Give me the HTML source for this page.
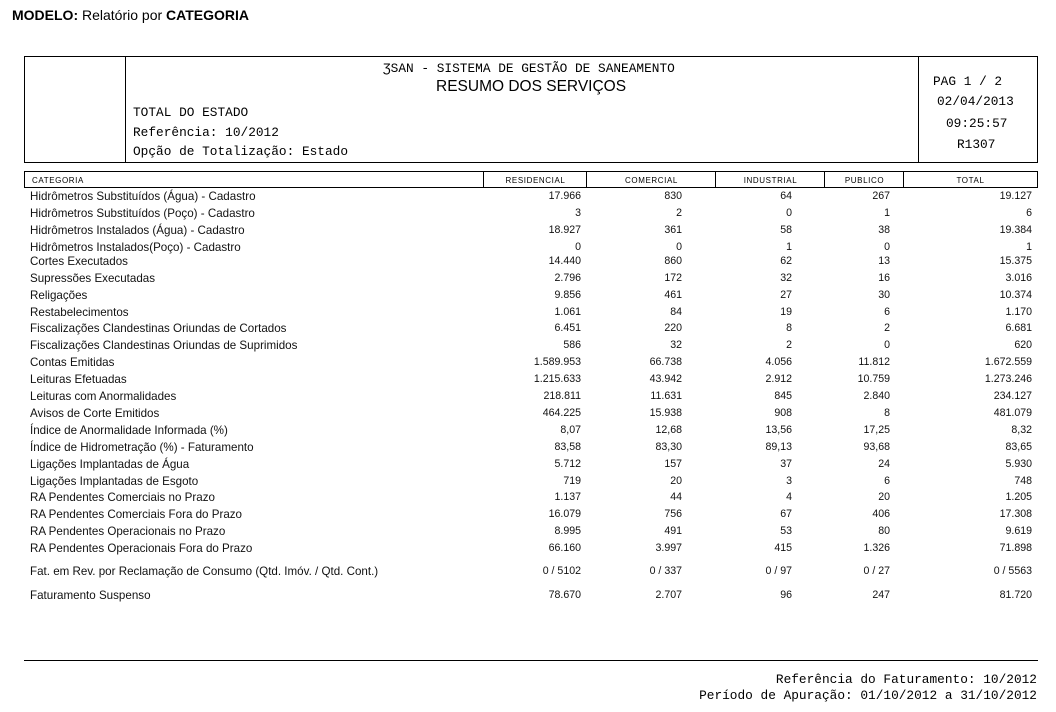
<!DOCTYPE html>
<html><head><meta charset="utf-8"><style>
body{margin:0;width:1056px;height:712px;background:#fff;position:relative;overflow:hidden;font-family:"Liberation Sans",sans-serif;color:#000}
.a{position:absolute;white-space:nowrap}
.m{font-family:"Liberation Mono",monospace;font-size:12.8px;line-height:15px}
.r{position:absolute;left:0;width:1056px;height:14px;font-size:10.6px;line-height:14px;color:#111}
.r span{position:absolute;white-space:nowrap;top:0}
.r .l{left:30px;font-size:11.6px;top:1px}
.c1{right:475px}.c2{right:374px}.c3{right:264px}.c4{right:166px}.c5{right:24px}
.h{position:absolute;top:171px;height:17px;border:1px solid #000;border-right:none;font-size:8px;line-height:17px;text-align:center;box-sizing:border-box;letter-spacing:0.6px}
</style></head><body>
<div class="a" style="left:12px;top:7px;font-size:14px"><b>MODELO:</b> Relatório por <b>CATEGORIA</b></div>
<div class="a" style="left:24px;top:56px;width:1014px;height:107px;border:1px solid #000;box-sizing:border-box"></div>
<div class="a" style="left:125px;top:56px;width:1px;height:107px;background:#000"></div>
<div class="a" style="left:918px;top:56px;width:1px;height:107px;background:#000"></div>
<div class="a m" style="left:383px;top:61px">ƷSAN - SISTEMA DE GESTÃO DE SANEAMENTO</div>
<div class="a" style="left:436px;top:78px;font-size:15.5px">RESUMO DOS SERVIÇOS</div>
<div class="a m" style="left:133px;top:105px">TOTAL DO ESTADO</div>
<div class="a m" style="left:133px;top:125px">Referência: 10/2012</div>
<div class="a m" style="left:133px;top:144px">Opção de Totalização: Estado</div>
<div class="a m" style="left:933px;top:74px">PAG 1 /  2</div>
<div class="a m" style="left:937px;top:94px">02/04/2013</div>
<div class="a m" style="left:946px;top:116px">09:25:57</div>
<div class="a m" style="left:957px;top:137px">R1307</div>
<div class="h" style="left:24px;width:460px;text-align:left;padding-left:7px">CATEGORIA</div>
<div class="h" style="left:483px;width:104px">RESIDENCIAL</div>
<div class="h" style="left:586px;width:130px">COMERCIAL</div>
<div class="h" style="left:715px;width:110px">INDUSTRIAL</div>
<div class="h" style="left:824px;width:80px">PUBLICO</div>
<div class="h" style="left:903px;width:135px;border-right:1px solid #000">TOTAL</div>
<div class="r" style="top:189px"><span class="l">Hidrômetros Substituídos (Água) - Cadastro</span><span class="c1">17.966</span><span class="c2">830</span><span class="c3">64</span><span class="c4">267</span><span class="c5">19.127</span></div>
<div class="r" style="top:206px"><span class="l">Hidrômetros Substituídos (Poço) - Cadastro</span><span class="c1">3</span><span class="c2">2</span><span class="c3">0</span><span class="c4">1</span><span class="c5">6</span></div>
<div class="r" style="top:223px"><span class="l">Hidrômetros Instalados (Água) - Cadastro</span><span class="c1">18.927</span><span class="c2">361</span><span class="c3">58</span><span class="c4">38</span><span class="c5">19.384</span></div>
<div class="r" style="top:240px"><span class="l">Hidrômetros Instalados(Poço) - Cadastro</span><span class="c1">0</span><span class="c2">0</span><span class="c3">1</span><span class="c4">0</span><span class="c5">1</span></div>
<div class="r" style="top:254px"><span class="l">Cortes Executados</span><span class="c1">14.440</span><span class="c2">860</span><span class="c3">62</span><span class="c4">13</span><span class="c5">15.375</span></div>
<div class="r" style="top:271px"><span class="l">Supressões Executadas</span><span class="c1">2.796</span><span class="c2">172</span><span class="c3">32</span><span class="c4">16</span><span class="c5">3.016</span></div>
<div class="r" style="top:288px"><span class="l">Religações</span><span class="c1">9.856</span><span class="c2">461</span><span class="c3">27</span><span class="c4">30</span><span class="c5">10.374</span></div>
<div class="r" style="top:305px"><span class="l">Restabelecimentos</span><span class="c1">1.061</span><span class="c2">84</span><span class="c3">19</span><span class="c4">6</span><span class="c5">1.170</span></div>
<div class="r" style="top:321px"><span class="l">Fiscalizações Clandestinas Oriundas de Cortados</span><span class="c1">6.451</span><span class="c2">220</span><span class="c3">8</span><span class="c4">2</span><span class="c5">6.681</span></div>
<div class="r" style="top:338px"><span class="l">Fiscalizações Clandestinas Oriundas de Suprimidos</span><span class="c1">586</span><span class="c2">32</span><span class="c3">2</span><span class="c4">0</span><span class="c5">620</span></div>
<div class="r" style="top:355px"><span class="l">Contas Emitidas</span><span class="c1">1.589.953</span><span class="c2">66.738</span><span class="c3">4.056</span><span class="c4">11.812</span><span class="c5">1.672.559</span></div>
<div class="r" style="top:372px"><span class="l">Leituras Efetuadas</span><span class="c1">1.215.633</span><span class="c2">43.942</span><span class="c3">2.912</span><span class="c4">10.759</span><span class="c5">1.273.246</span></div>
<div class="r" style="top:389px"><span class="l">Leituras com Anormalidades</span><span class="c1">218.811</span><span class="c2">11.631</span><span class="c3">845</span><span class="c4">2.840</span><span class="c5">234.127</span></div>
<div class="r" style="top:406px"><span class="l">Avisos de Corte Emitidos</span><span class="c1">464.225</span><span class="c2">15.938</span><span class="c3">908</span><span class="c4">8</span><span class="c5">481.079</span></div>
<div class="r" style="top:423px"><span class="l">Índice de Anormalidade Informada (%)</span><span class="c1">8,07</span><span class="c2">12,68</span><span class="c3">13,56</span><span class="c4">17,25</span><span class="c5">8,32</span></div>
<div class="r" style="top:440px"><span class="l">Índice de Hidrometração (%) - Faturamento</span><span class="c1">83,58</span><span class="c2">83,30</span><span class="c3">89,13</span><span class="c4">93,68</span><span class="c5">83,65</span></div>
<div class="r" style="top:457px"><span class="l">Ligações Implantadas de Água</span><span class="c1">5.712</span><span class="c2">157</span><span class="c3">37</span><span class="c4">24</span><span class="c5">5.930</span></div>
<div class="r" style="top:474px"><span class="l">Ligações Implantadas de Esgoto</span><span class="c1">719</span><span class="c2">20</span><span class="c3">3</span><span class="c4">6</span><span class="c5">748</span></div>
<div class="r" style="top:490px"><span class="l">RA Pendentes Comerciais no Prazo</span><span class="c1">1.137</span><span class="c2">44</span><span class="c3">4</span><span class="c4">20</span><span class="c5">1.205</span></div>
<div class="r" style="top:507px"><span class="l">RA Pendentes Comerciais Fora do Prazo</span><span class="c1">16.079</span><span class="c2">756</span><span class="c3">67</span><span class="c4">406</span><span class="c5">17.308</span></div>
<div class="r" style="top:524px"><span class="l">RA Pendentes Operacionais no Prazo</span><span class="c1">8.995</span><span class="c2">491</span><span class="c3">53</span><span class="c4">80</span><span class="c5">9.619</span></div>
<div class="r" style="top:541px"><span class="l">RA Pendentes Operacionais Fora do Prazo</span><span class="c1">66.160</span><span class="c2">3.997</span><span class="c3">415</span><span class="c4">1.326</span><span class="c5">71.898</span></div>
<div class="r" style="top:564px"><span class="l">Fat. em Rev. por Reclamação de Consumo (Qtd. Imóv. / Qtd. Cont.)</span><span class="c1">0 / 5102</span><span class="c2">0 / 337</span><span class="c3">0 / 97</span><span class="c4">0 / 27</span><span class="c5">0 / 5563</span></div>
<div class="r" style="top:588px"><span class="l">Faturamento Suspenso</span><span class="c1">78.670</span><span class="c2">2.707</span><span class="c3">96</span><span class="c4">247</span><span class="c5">81.720</span></div>
<div class="a" style="left:24px;top:660px;width:1014px;height:1px;background:#000"></div>
<div class="a m" style="right:19px;top:672px">Referência do Faturamento: 10/2012</div>
<div class="a m" style="right:19px;top:688px">Período de Apuração: 01/10/2012 a 31/10/2012</div>
</body></html>
